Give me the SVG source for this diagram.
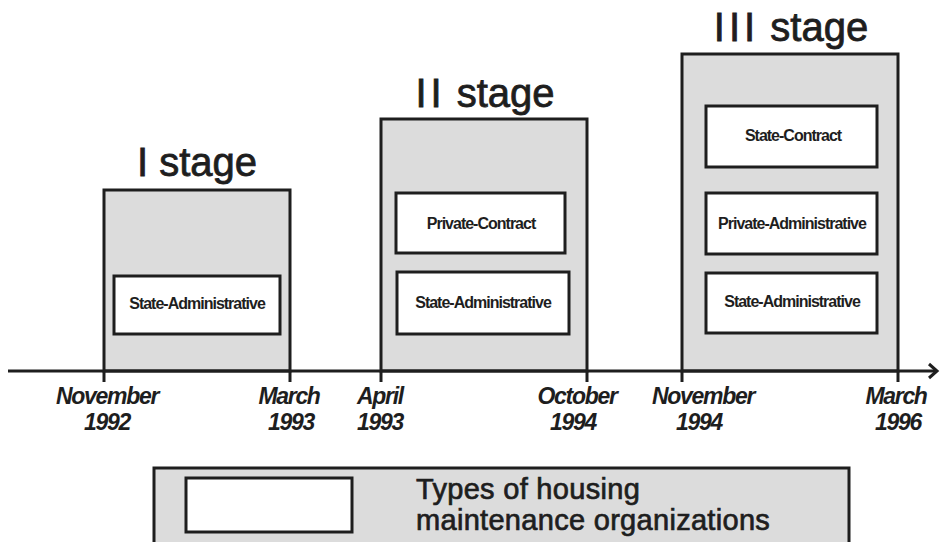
<svg xmlns="http://www.w3.org/2000/svg" width="941" height="542" viewBox="0 0 941 542">
<style>
.stage{fill:#dcdcdc;stroke:#1e1e1e;stroke-width:3}
.org{fill:#fff;stroke:#1e1e1e;stroke-width:3}
.title{font-family:"Liberation Sans",Arial,sans-serif;font-size:40px;fill:#1e1e1e;stroke:#1e1e1e;stroke-width:0.8;text-anchor:middle}
.lbl{font-family:"Liberation Sans",Arial,sans-serif;font-size:16px;font-weight:bold;fill:#1e1e1e;text-anchor:middle;letter-spacing:-1px}
.date{font-family:"Liberation Sans",Arial,sans-serif;font-size:23px;font-weight:bold;font-style:italic;fill:#1e1e1e;text-anchor:middle;letter-spacing:-1.3px}
.leg{font-family:"Liberation Sans",Arial,sans-serif;font-size:29px;fill:#1e1e1e;stroke:#1e1e1e;stroke-width:0.7;letter-spacing:0.3px}
.axis{stroke:#1e1e1e;stroke-width:3;fill:none}
</style>
<rect width="941" height="542" fill="#fff"/>
<g id="stage1">
<rect class="stage" x="104" y="190" width="186" height="181"/>
<text class="title" x="197" y="176">I stage</text>
<g id="s1-state-admin"><rect class="org" x="114" y="276" width="166" height="58"/><text class="lbl" x="197" y="309">State-Administrative</text></g>
</g>
<g id="stage2">
<rect class="stage" x="381" y="119" width="206" height="252"/>
<text class="title" x="485" y="107"><tspan letter-spacing="4">II</tspan> stage</text>
<g id="s2-private-contract"><rect class="org" x="396" y="193" width="169" height="60"/><text class="lbl" x="481" y="229">Private-Contract</text></g>
<g id="s2-state-admin"><rect class="org" x="397" y="272" width="172" height="62"/><text class="lbl" x="483" y="308">State-Administrative</text></g>
</g>
<g id="stage3">
<rect class="stage" x="682" y="54" width="216" height="317"/>
<text class="title" x="791" y="41"><tspan letter-spacing="4">III</tspan> stage</text>
<g id="s3-state-contract"><rect class="org" x="706" y="106" width="171" height="61"/><text class="lbl" x="793" y="141">State-Contract</text></g>
<g id="s3-private-admin"><rect class="org" x="706" y="193" width="171" height="61"/><text class="lbl" x="792" y="229">Private-Administrative</text></g>
<g id="s3-state-admin"><rect class="org" x="706" y="273" width="171" height="60"/><text class="lbl" x="792" y="307">State-Administrative</text></g>
</g>
<g id="connectors">
<line class="axis" x1="8" y1="371" x2="936" y2="371"/>
<polyline class="axis" points="929,364 937,371 929,378"/>
<line class="axis" x1="104" y1="371" x2="104" y2="382"/>
<line class="axis" x1="290" y1="371" x2="290" y2="382"/>
<line class="axis" x1="381" y1="371" x2="381" y2="382"/>
<line class="axis" x1="587" y1="371" x2="587" y2="382"/>
<line class="axis" x1="682" y1="371" x2="682" y2="382"/>
<line class="axis" x1="898" y1="371" x2="898" y2="382"/>
</g>
<g id="dates">
<text class="date" x="107" y="404">November</text><text class="date" x="107" y="430">1992</text>
<text class="date" x="289" y="404">March</text><text class="date" x="291" y="430">1993</text>
<text class="date" x="380" y="404">April</text><text class="date" x="380" y="430">1993</text>
<text class="date" x="577" y="404">October</text><text class="date" x="573" y="430">1994</text>
<text class="date" x="703" y="404">November</text><text class="date" x="699" y="430">1994</text>
<text class="date" x="896" y="404">March</text><text class="date" x="898" y="430">1996</text>
</g>
<g id="legend">
<rect class="stage" x="154" y="468" width="695" height="76"/>
<rect class="org" x="186" y="478" width="166" height="54"/>
<text class="leg" x="416" y="499">Types of housing</text>
<text class="leg" x="416" y="530">maintenance organizations</text>
</g>
</svg>
